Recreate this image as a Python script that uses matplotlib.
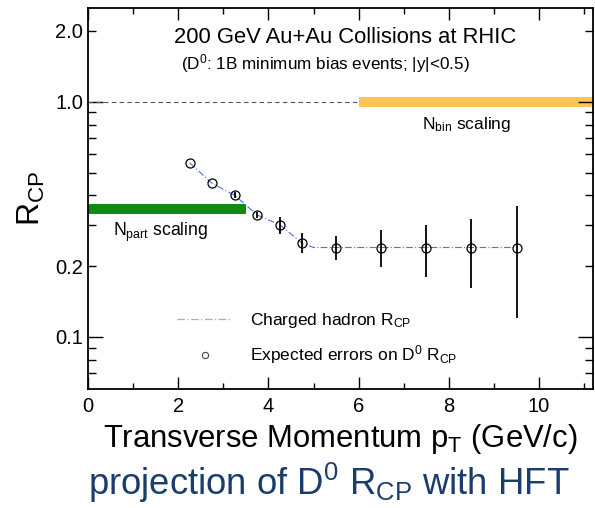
import matplotlib
matplotlib.use("Agg")
import matplotlib.pyplot as plt
from matplotlib.ticker import FixedLocator, FixedFormatter

plt.rcParams['font.family'] = ['Liberation Sans', 'DejaVu Sans']
plt.rcParams['mathtext.fontset'] = 'custom'
plt.rcParams['mathtext.rm'] = 'Liberation Sans'
plt.rcParams['mathtext.it'] = 'Liberation Sans:italic'

# D0 R_CP projected points and errors
pt = [2.25, 2.75, 3.25, 3.75, 4.25, 4.75, 5.5, 6.5, 7.5, 8.5, 9.5]
rcp = [0.55, 0.45, 0.40, 0.33, 0.30, 0.25, 0.24, 0.24, 0.24, 0.24, 0.24]
err_lo = [0.0, 0.0, 0.012, 0.01, 0.025, 0.022, 0.027, 0.041, 0.06, 0.078, 0.12]
err_hi = [0.0, 0.0, 0.012, 0.01, 0.025, 0.027, 0.029, 0.045, 0.06, 0.078, 0.121]

# charged hadron R_CP curve
h_pt = [2.25, 2.75, 3.25, 3.75, 4.25, 4.75, 5.0, 9.5]
h_rcp = [0.55, 0.45, 0.40, 0.33, 0.30, 0.25, 0.24, 0.24]

# scaling bands
npart_x = [0.0, 3.5]
npart_lo, npart_hi = 0.334, 0.368
nbin_x = [6.0, 11.2]
nbin_lo, nbin_hi = 0.953, 1.05

fig = plt.figure(figsize=(5.95, 5.08), dpi=100)
ax = fig.add_axes([0.148, 0.234, 0.849, 0.750])
ax.set_yscale('log')
ax.set_xlim(0, 11.2)
ax.set_ylim(0.06, 2.5)

ax.plot([0, 6.0], [1.0, 1.0], ls=(0, (4, 3)), color='#555555', lw=0.8)
ax.fill_between(nbin_x, nbin_lo, nbin_hi, color='#FFC54F', lw=0)
ax.fill_between(npart_x, npart_lo, npart_hi, color='#118C11', lw=0)

ax.plot(h_pt, h_rcp, ls='-.', color='#5070E8', lw=0.8, dashes=(6, 2, 1, 2),
        label='Charged hadron R$_{\\mathregular{CP}}$')
ax.errorbar(pt, rcp, yerr=[err_lo, err_hi], fmt='o', mfc='none', mec='black',
            ms=6.5, mew=0.9, ecolor='black', elinewidth=1.3, capsize=0,
            label='Expected errors on D$^{\\mathregular{0}}$ R$_{\\mathregular{CP}}$')

ax.text(5.71, 1.87, '200 GeV Au+Au Collisions at RHIC', ha='center', va='center', fontsize=15.8)
ax.text(5.27, 1.45, '(D$^{\\mathregular{0}}$: 1B minimum bias events; |y|<0.5)',
        ha='center', va='center', fontsize=12.3)
ax.text(0.55, 0.277, 'N$_{\\mathregular{part}}$ scaling', ha='left', va='center', fontsize=12.7)
ax.text(7.4, 0.80, 'N$_{\\mathregular{bin}}$ scaling', ha='left', va='center', fontsize=12.5)

hl, lb = ax.get_legend_handles_labels()
hl[1] = plt.Line2D([], [], marker='o', ls='none', mfc='none', mec='#444444', ms=4.5, mew=0.8)
hl[0] = plt.Line2D([], [], ls='-.', color='#9AAAF5', lw=0.9, dashes=(6, 2, 1, 2))
ax.legend(hl, lb, loc='upper left', bbox_to_anchor=(0.145, 0.247), frameon=False,
          fontsize=12.5, handlelength=3.2, handletextpad=1.0, labelspacing=0.8)

# ticks
ax.yaxis.set_major_locator(FixedLocator([0.1, 1.0]))
ax.yaxis.set_minor_locator(FixedLocator([0.07, 0.08, 0.09, 0.2, 0.3, 0.4, 0.5, 0.6, 0.7, 0.8, 0.9, 2.0]))
ax.yaxis.set_major_formatter(FixedFormatter(['0.1', '1.0']))
ax.yaxis.set_minor_formatter(FixedFormatter(['', '', '', '0.2', '', '', '', '', '', '', '', '2.0']))
ax.xaxis.set_major_locator(FixedLocator([0, 2, 4, 6, 8, 10]))
ax.xaxis.set_minor_locator(FixedLocator([1, 3, 5, 7, 9, 11]))
ax.tick_params(which='both', direction='in', top=True, right=True, labelsize=14.5, width=1.0)
ax.tick_params(axis='y', which='major', length=11)
ax.tick_params(axis='y', which='minor', length=6)
ax.tick_params(axis='x', which='major', length=8.5)
ax.tick_params(axis='x', which='minor', length=4.5)
ax.tick_params(axis='x', which='both', pad=6)
for s in ax.spines.values():
    s.set_linewidth(1.3)

ax.set_ylabel('R$_{\\mathregular{CP}}$', fontsize=23, labelpad=6)
ax.set_xlabel('Transverse Momentum p$_{\\mathregular{T}}$ (GeV/c)', fontsize=22.3, labelpad=4)

fig.text(0.553, 0.049, 'projection of D$^{\\mathregular{0}}$ R$_{\\mathregular{CP}}$ with HFT',
         ha='center', va='center', fontsize=26.3, color='#1B3D6B')

fig.savefig('out.png', dpi=100)
